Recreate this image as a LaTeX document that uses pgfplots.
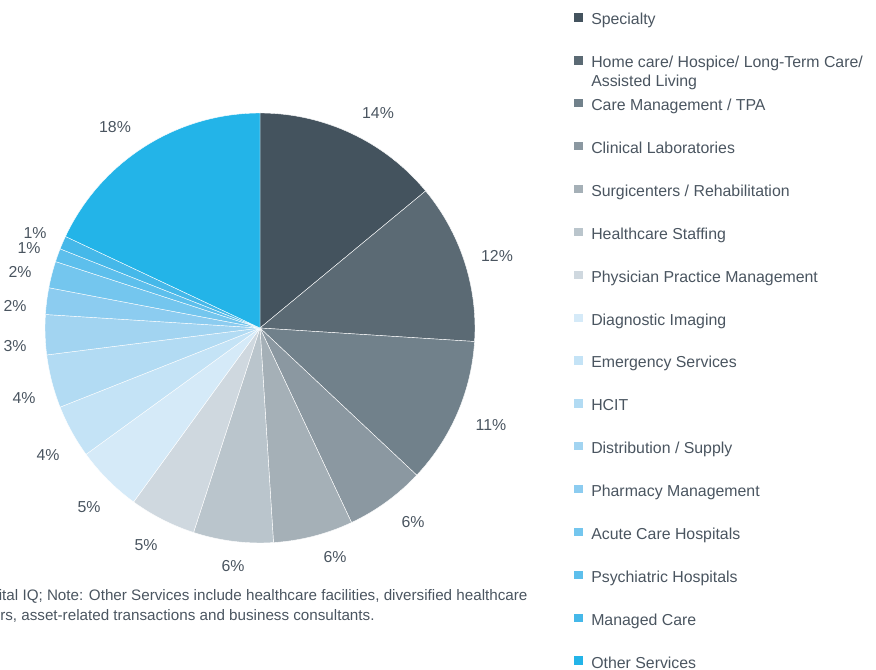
\documentclass[border=0pt]{standalone}
\usepackage{pgfplots}
\pgfplotsset{compat=1.18}
\usepackage{pgfplotstable}
\usepackage{fontspec}
\setmainfont{Liberation Sans}
\definecolor{pc0}{HTML}{44535E}
\definecolor{pc1}{HTML}{5B6A74}
\definecolor{pc2}{HTML}{71818B}
\definecolor{pc3}{HTML}{8B98A1}
\definecolor{pc4}{HTML}{A5B0B7}
\definecolor{pc5}{HTML}{BAC5CC}
\definecolor{pc6}{HTML}{CFD8DF}
\definecolor{pc7}{HTML}{D5EAF8}
\definecolor{pc8}{HTML}{C4E3F6}
\definecolor{pc9}{HTML}{B2DBF3}
\definecolor{pc10}{HTML}{A2D4F1}
\definecolor{pc11}{HTML}{8CCCF0}
\definecolor{pc12}{HTML}{74C6EE}
\definecolor{pc13}{HTML}{5DBFEC}
\definecolor{pc14}{HTML}{45B8E9}
\definecolor{pc15}{HTML}{23B4E8}
\definecolor{txt}{HTML}{4A5560}

\pgfplotstableread{
val lx ly
14 118 215
12 237 72
11 231 -97
6 153 -194
6 75 -229
6 -27 -238
5 -114 -217
5 -171 -179
4 -212 -127
4 -236 -70
3 -245 -18
2 -245 22
2 -240 56
1 -231 80
1 -225 95
18 -145 201
}\piedata

\newcommand{\legitem}[3]{%
  \fill[pc#1] (574,#2-11.5) rectangle (583,#2-3.2);
  \node[anchor=base west, inner sep=0pt, text=txt] at (591,#2) {#3};}

\begin{document}
\begin{tikzpicture}[x=0.75pt,y=-0.75pt,
  font=\fontsize{11.9}{14}\selectfont,
  lbl/.style={text=txt, inner sep=0pt, anchor=center}]
\useasboundingbox (0,0) rectangle (876,670);
\clip (0,0) rectangle (876,670);
\coordinate (C) at (260,328);
\begin{axis}[at={(C)}, anchor=center, x=0.75pt, y=0.75pt,
  xmin=-215, xmax=215, ymin=-215, ymax=215, hide axis, clip=false]
\gdef\cum{0}
\pgfplotsinvokeforeach{0,...,15}{
  \pgfplotstablegetelem{#1}{val}\of\piedata \let\v\pgfplotsretval
  \pgfplotstablegetelem{#1}{lx}\of\piedata \let\lx\pgfplotsretval
  \pgfplotstablegetelem{#1}{ly}\of\piedata \let\ly\pgfplotsretval
  \pgfmathsetmacro\aa{90-3.6*\cum}
  \pgfmathsetmacro\ab{90-3.6*(\cum+\v)}
  \pgfmathsetmacro\sx{215*cos(\aa)}
  \pgfmathsetmacro\sy{215*sin(\aa)}
  \edef\tmp{\noexpand\fill[pc#1, draw=white, line width=0.3pt] (axis cs:0,0) -- (axis cs:\sx,\sy) arc[start angle=\aa, end angle=\ab, radius=161.25pt] -- cycle;
    \noexpand\node[lbl] at (axis cs:\lx,\ly) {\v\noexpand\%};}
  \tmp
  \pgfmathsetmacro\newcum{\cum+\v}
  \xdef\cum{\newcum}
}
\end{axis}

\legitem{0}{25}{Specialty}
\legitem{1}{67.9}{Home care/ Hospice/ Long-Term Care/}
\node[anchor=base west, inner sep=0pt, text=txt] at (591,86.9) {Assisted Living};
\legitem{2}{110.7}{Care Management / TPA}
\legitem{3}{153.6}{Clinical Laboratories}
\legitem{4}{196.5}{Surgicenters / Rehabilitation}
\legitem{5}{239.3}{Healthcare Staffing}
\legitem{6}{282.2}{Physician Practice Management}
\legitem{7}{325.1}{Diagnostic Imaging}
\legitem{8}{367.9}{Emergency Services}
\legitem{9}{410.8}{HCIT}
\legitem{10}{453.7}{Distribution / Supply}
\legitem{11}{496.6}{Pharmacy Management}
\legitem{12}{539.4}{Acute Care Hospitals}
\legitem{13}{582.3}{Psychiatric Hospitals}
\legitem{14}{625.2}{Managed Care}
\legitem{15}{668}{Other Services}

\node[anchor=base west, inner sep=0pt, text=txt, font=\fontsize{11.4}{13}\selectfont] at (2,601) {\llap{Source: S\&P Capi}tal IQ; Note: Other Services include healthcare facilities, diversified healthcare};
\node[anchor=base west, inner sep=0pt, text=txt, font=\fontsize{11.4}{13}\selectfont] at (0,620) {\llap{provide}rs, asset-related transactions and business consultants.};
\end{tikzpicture}
\end{document}
